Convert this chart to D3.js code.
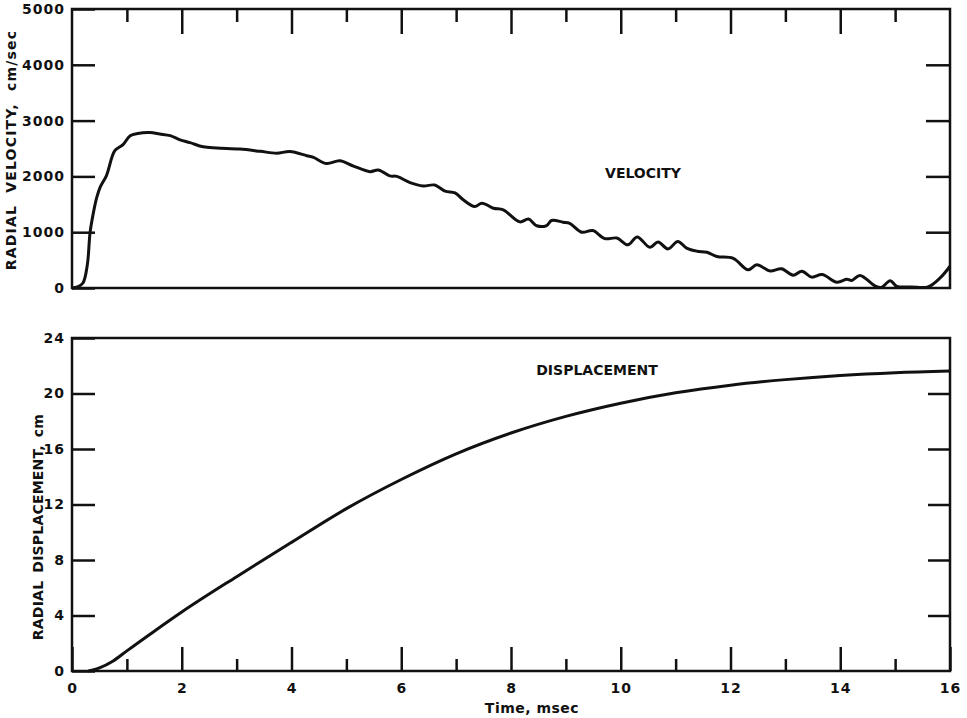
<!DOCTYPE html>
<html>
<head>
<meta charset="utf-8">
<script src="https://cdn.jsdelivr.net/npm/d3@7"></script>
<style>
  body { margin: 0; background: #fff; }
  svg { display: block; }
  .lbl { font-family: "DejaVu Sans", sans-serif; font-weight: bold; fill: #111; }
  .axis text { font-family: "DejaVu Sans", sans-serif; font-weight: bold; font-size: 14px; letter-spacing: 1px; fill: #111; }
  .axis line { stroke: #111; stroke-width: 2.5; }
  .axis .domain { display: none; }
</style>
</head>
<body>
<div id="chart"></div>
<script>
// tiempo (msec) y velocidad radial (cm/sec)
const tiempoVelocidad = [0, 0.1, 0.2, 0.28, 0.33, 0.4, 0.45, 0.51, 0.63, 0.78, 0.93, 1.06, 1.2, 1.42, 1.6, 1.79, 1.97,
  2.15, 2.39, 2.64, 3.06, 3.43, 3.73, 3.97, 4.28, 4.4, 4.64, 4.88, 5.13, 5.43, 5.58, 5.79, 5.92, 6.16, 6.4, 6.61,
  6.8, 6.98, 7.13, 7.34, 7.47, 7.68, 7.86, 8.16, 8.32, 8.47, 8.65, 8.74, 8.95, 9.07, 9.29, 9.49, 9.71, 9.93,
  10.13, 10.3, 10.53, 10.68, 10.86, 11.04, 11.2, 11.39, 11.57, 11.75, 12.05, 12.32, 12.48, 12.72, 12.93, 13.14,
  13.3, 13.48, 13.67, 13.94, 14.12, 14.21, 14.36, 14.63, 14.75, 14.91, 15.03, 15.3, 15.6, 15.82, 16];
const valoresVelocidad = [0, 20, 90, 420, 1000, 1400, 1620, 1800, 2020, 2460, 2570, 2730, 2770, 2785, 2760, 2730, 2655,
  2605, 2530, 2510, 2490, 2450, 2415, 2445, 2370, 2340, 2230, 2280, 2185, 2085, 2115, 2010, 2000, 1890, 1830, 1845,
  1735, 1705, 1580, 1460, 1520, 1430, 1400, 1185, 1235, 1115, 1120, 1210, 1180, 1160, 1000, 1030, 885, 895,
  775, 915, 730, 825, 700, 835, 715, 660, 640, 565, 530, 325, 415, 305, 345, 230,
  300, 195, 240, 105, 155, 135, 225, 40, 10, 130, 30, 20, 20, 180, 390];

// desplazamiento radial (cm)
const tiempoDesplazamiento = [0.3, 0.5, 0.75, 1, 1.5, 2, 3, 4, 5, 6, 7, 8, 9, 10, 11, 12, 13, 14, 15, 16];
const valoresDesplazamiento = [0, 0.22, 0.72, 1.45, 2.87, 4.25, 6.8, 9.27, 11.7, 13.8, 15.65, 17.15, 18.35, 19.3, 20.05, 20.6, 21.0, 21.3, 21.5, 21.62];

const ticksTiempo = [0, 2, 4, 6, 8, 10, 12, 14, 16];
const ticksTiempoMenores = [1, 3, 5, 7, 9, 11, 13, 15];
const ticksVelocidad = [0, 1000, 2000, 3000, 4000, 5000];
const ticksDesplazamiento = [0, 4, 8, 12, 16, 20, 24];

const anchura = 967, altura = 718;
const izq = 72, der = 950;
const arriba1 = 9, abajo1 = 288;
const arriba2 = 338, abajo2 = 671;

const svg = d3.select('#chart').append('svg')
  .attr('width', anchura)
  .attr('height', altura);

const x = d3.scaleLinear().domain([0, 16]).range([izq, der]);
const yVel = d3.scaleLinear().domain([0, 5000]).range([abajo1, arriba1]);
const yDesp = d3.scaleLinear().domain([0, 24]).range([abajo2, arriba2]);

// panel superior: ticks hacia dentro
svg.append('g').attr('class', 'axis')
  .attr('transform', `translate(0,${arriba1})`)
  .call(d3.axisTop(x).tickValues(ticksTiempo.slice(1, -1)).tickSize(-25).tickFormat(''));
svg.append('g').attr('class', 'axis')
  .attr('transform', `translate(0,${arriba1})`)
  .call(d3.axisTop(x).tickValues(ticksTiempoMenores).tickSize(-13).tickFormat(''));
svg.append('g').attr('class', 'axis')
  .attr('transform', `translate(${izq},0)`)
  .call(d3.axisLeft(yVel).tickValues(ticksVelocidad).tickSize(-23).tickPadding(7).tickFormat(d3.format('d')));
svg.append('g').attr('class', 'axis')
  .attr('transform', `translate(${der},0)`)
  .call(d3.axisRight(yVel).tickValues(ticksVelocidad.slice(1, -1)).tickSize(-24).tickFormat(''));

// panel inferior
svg.append('g').attr('class', 'axis')
  .attr('transform', `translate(0,${abajo2})`)
  .call(d3.axisBottom(x).tickValues(ticksTiempo).tickSize(-24).tickPadding(12).tickFormat(d3.format('d')));
svg.append('g').attr('class', 'axis')
  .attr('transform', `translate(0,${abajo2})`)
  .call(d3.axisBottom(x).tickValues(ticksTiempoMenores).tickSize(-12).tickFormat(''));
svg.append('g').attr('class', 'axis')
  .attr('transform', `translate(${izq},0)`)
  .call(d3.axisLeft(yDesp).tickValues(ticksDesplazamiento).tickSize(-23).tickPadding(7).tickFormat(d3.format('d')));
svg.append('g').attr('class', 'axis')
  .attr('transform', `translate(${der},0)`)
  .call(d3.axisRight(yDesp).tickValues(ticksDesplazamiento.slice(1, -1)).tickSize(-22).tickFormat(''));

// marcos
[[arriba1, abajo1], [arriba2, abajo2]].forEach(([a, b]) => {
  svg.append('rect')
    .attr('x', izq).attr('y', a)
    .attr('width', der - izq).attr('height', b - a)
    .attr('fill', 'none').attr('stroke', '#111').attr('stroke-width', 2.5);
});

const lineaVel = d3.line()
  .x(i => x(tiempoVelocidad[i]))
  .y(i => yVel(valoresVelocidad[i]))
  .curve(d3.curveCatmullRom.alpha(0.5));
svg.append('path')
  .attr('d', lineaVel(d3.range(tiempoVelocidad.length)))
  .attr('fill', 'none').attr('stroke', '#111').attr('stroke-width', 3)
  .attr('stroke-linejoin', 'round');

const lineaDesp = d3.line()
  .x(i => x(tiempoDesplazamiento[i]))
  .y(i => yDesp(valoresDesplazamiento[i]))
  .curve(d3.curveMonotoneX);
svg.append('path')
  .attr('d', lineaDesp(d3.range(tiempoDesplazamiento.length)))
  .attr('fill', 'none').attr('stroke', '#111').attr('stroke-width', 3)
  .attr('stroke-linejoin', 'round');

// textos
svg.append('text').attr('class', 'lbl')
  .attr('x', 643).attr('y', 178).attr('text-anchor', 'middle').style('font-size', '14px')
  .text('VELOCITY');
svg.append('text').attr('class', 'lbl')
  .attr('x', 597).attr('y', 375).attr('text-anchor', 'middle').style('font-size', '14px')
  .text('DISPLACEMENT');
svg.append('text').attr('class', 'lbl')
  .attr('x', 532).attr('y', 713).attr('text-anchor', 'middle').style('font-size', '14px')
  .style('letter-spacing', '0.5px')
  .text('Time, msec');
svg.append('text').attr('class', 'lbl')
  .attr('transform', 'translate(16,150) rotate(-90)')
  .attr('text-anchor', 'middle').style('font-size', '14px')
  .style('letter-spacing', '1.2px').style('word-spacing', '6px')
  .text('RADIAL VELOCITY, cm/sec');
svg.append('text').attr('class', 'lbl')
  .attr('transform', 'translate(43,527) rotate(-90)')
  .attr('text-anchor', 'middle').style('font-size', '14px')
  .style('letter-spacing', '0.2px').style('word-spacing', '3px')
  .text('RADIAL DISPLACEMENT, cm');
</script>
</body>
</html>
